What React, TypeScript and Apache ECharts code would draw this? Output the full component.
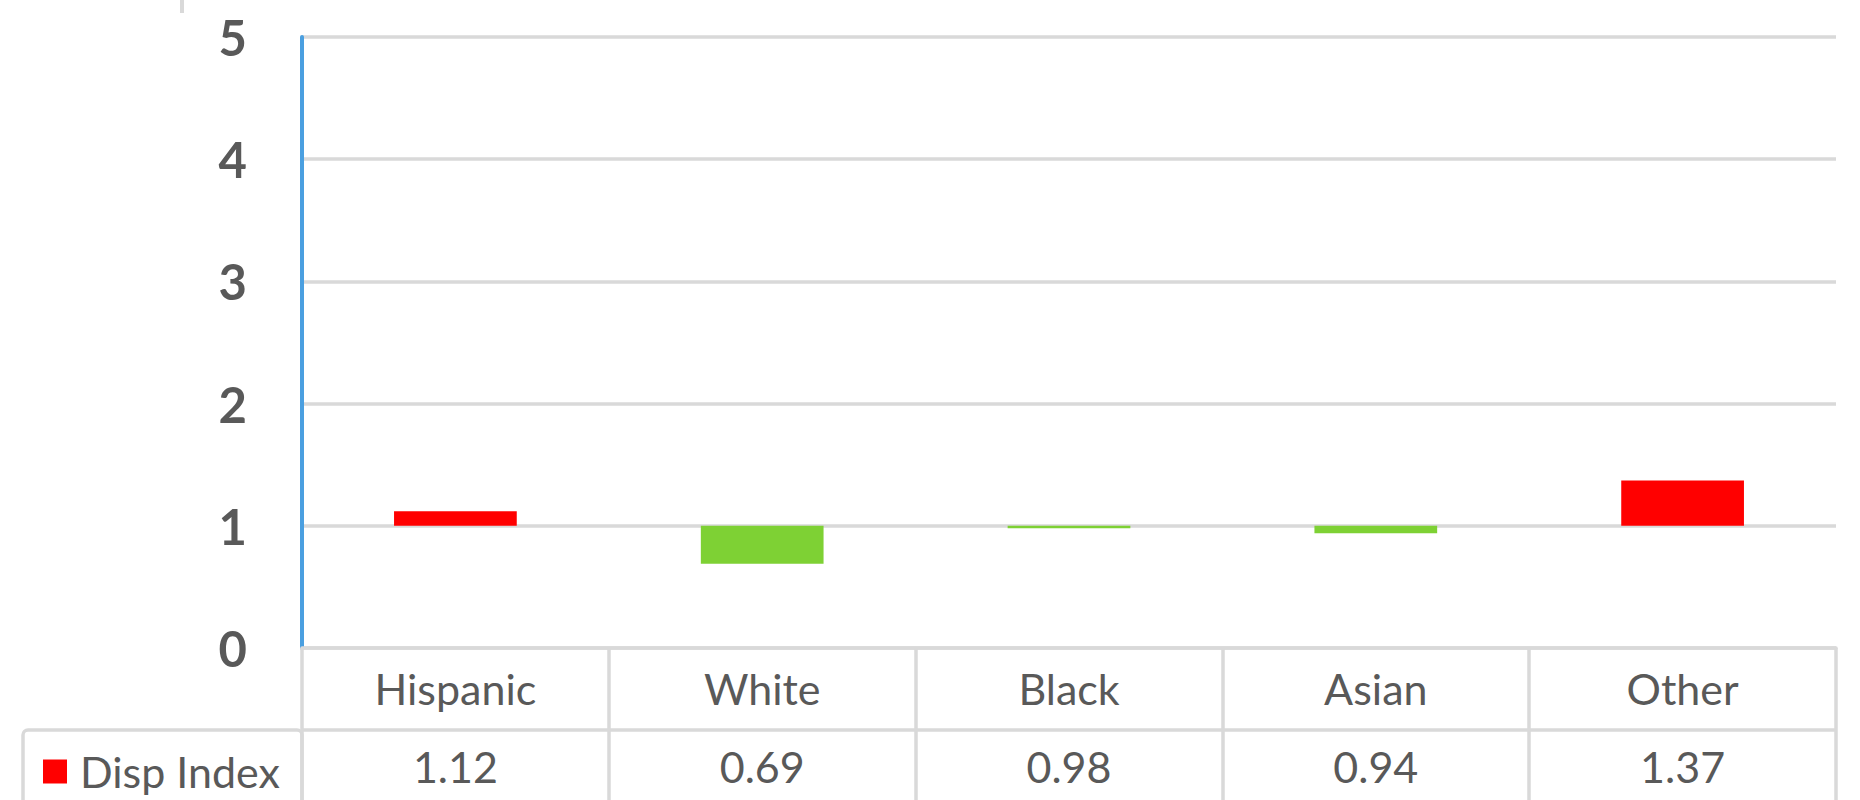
import React, { useEffect, useRef } from "react";
import * as echarts from "echarts";

const categories = ["Hispanic", "White", "Black", "Asian", "Other"];
const dispIndex = [1.12, 0.69, 0.98, 0.94, 1.37];
const seriesName = "Disp Index";
const yTicks = { min: 0, max: 5, interval: 1 };
const baseline = 1;

const RED = "#ff0000";
const GREEN = "#7ed134";
const GRID_COLOR = "#d9d9d9";
const TEXT_COLOR = "#595959";
const AXIS_BLUE = "#4a9fe0";
const FONT = "Lato, 'Open Sans', sans-serif";

const W = 1860;
const H = 800;
const G = { left: 302, right: 24, top: 37, bottom: 152 };

export default function App() {
  const ref = useRef<HTMLDivElement>(null);

  useEffect(() => {
    if (!ref.current) return;
    const chart = echarts.init(ref.current, undefined, { renderer: "svg" });

    const baseData = dispIndex.map((v) => Math.min(v, baseline));
    const deltaData = dispIndex.map((v) => ({
      value: Math.abs(v - baseline),
      itemStyle: { color: v >= baseline ? RED : GREEN },
    }));

    const rowSep = 730;

    chart.setOption({
      animation: false,
      backgroundColor: "#ffffff",
      textStyle: { fontFamily: FONT },
      grid: { left: G.left, right: G.right, top: G.top, bottom: G.bottom, containLabel: false },
      legend: {
        show: true,
        left: 38,
        top: 745,
        itemWidth: 24,
        itemHeight: 24,
        icon: "rect",
        selectedMode: false,
        data: [{ name: seriesName, itemStyle: { color: RED } }],
        textStyle: { fontFamily: FONT, fontSize: 43, color: TEXT_COLOR, padding: [0, 0, 0, 8] },
      },
      xAxis: [
        {
          type: "category",
          data: categories,
          position: "bottom",
          boundaryGap: true,
          axisLine: { show: true, lineStyle: { color: GRID_COLOR, width: 3.5 } },
          axisTick: { show: true, length: G.bottom, lineStyle: { color: GRID_COLOR, width: 3.5 } },
          axisLabel: { fontFamily: FONT, fontSize: 43, color: TEXT_COLOR, margin: 19 },
        },
        {
          type: "category",
          data: dispIndex.map((v) => v.toFixed(2)),
          position: "bottom",
          offset: 78,
          boundaryGap: true,
          axisLine: { show: false },
          axisTick: { show: false },
          axisLabel: { fontFamily: FONT, fontSize: 43, color: TEXT_COLOR, margin: 19 },
        },
      ],
      yAxis: {
        type: "value",
        min: yTicks.min,
        max: yTicks.max,
        interval: yTicks.interval,
        axisLine: { show: true, lineStyle: { color: AXIS_BLUE, width: 4 } },
        axisTick: { show: false },
        axisLabel: {
          fontFamily: FONT,
          fontSize: 49,
          fontWeight: "bold",
          color: TEXT_COLOR,
          margin: 55,
        },
        splitLine: { show: true, lineStyle: { color: GRID_COLOR, width: 3.5 } },
      },
      series: [
        {
          name: "base",
          type: "bar",
          stack: "disp",
          xAxisIndex: 0,
          barWidth: "40%",
          silent: true,
          itemStyle: { color: "rgba(0,0,0,0)" },
          data: baseData,
        },
        {
          name: seriesName,
          type: "bar",
          stack: "disp",
          xAxisIndex: 0,
          barWidth: "40%",
          itemStyle: { color: RED },
          data: deltaData,
        },
      ],
      graphic: [
        {
          type: "rect",
          shape: { x: 180, y: 0, width: 4, height: 13 },
          style: { fill: GRID_COLOR },
        },
        {
          type: "line",
          shape: { x1: G.left, y1: rowSep, x2: W - G.right, y2: rowSep },
          style: { stroke: GRID_COLOR, lineWidth: 3.5 },
        },
        {
          type: "rect",
          shape: { x: 23, y: rowSep, width: G.left - 23, height: 120, r: 5 },
          style: { fill: "none", stroke: GRID_COLOR, lineWidth: 3.5 },
        },
      ],
    });

    return () => chart.dispose();
  }, []);

  return (
    <div
      ref={ref}
      style={{ position: "absolute", left: 0, top: 0, width: W, height: H, background: "#fff" }}
    />
  );
}
